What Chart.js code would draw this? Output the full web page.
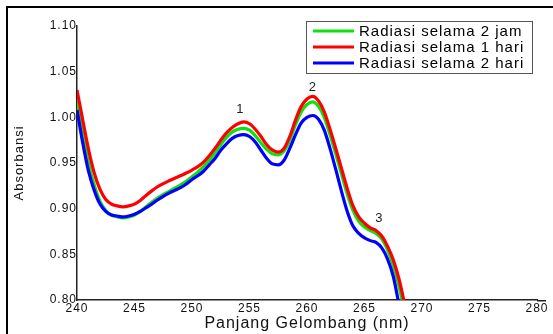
<!DOCTYPE html>
<html>
<head>
<meta charset="utf-8">
<script src="https://cdn.jsdelivr.net/npm/chart.js@4.4.1/dist/chart.umd.min.js"></script>
<style>
  html, body { margin: 0; padding: 0; background: #fff; }
  #wrap { width: 553px; height: 334px; }
</style>
</head>
<body>
<div id="wrap"><canvas id="chart"></canvas></div>
<script>
// panjang gelombang (nm)
var panjang = [240,240.5,241,241.5,242,242.5,243,243.5,244,244.5,245,245.5,246,246.5,247,247.5,248,248.5,249,249.5,
  250,250.5,251,251.5,252,252.5,253,253.5,254,254.5,255,255.5,256,256.5,257,257.5,258,258.5,259,259.5,
  260,260.5,261,261.5,262,262.5,263,263.5,264,264.5,265,265.5,266,266.5,267,267.5,268,268.5,269]

var dua_jam = [1.018,0.982,0.950,0.926,0.908,0.898,0.893,0.891,0.890,0.891,0.893,0.897,0.902,0.907,0.9115,0.9155,0.919,0.9225,0.926,0.930,
  0.935,0.940,0.946,0.953,0.961,0.970,0.978,0.984,0.987,0.988,0.986,0.980,0.972,0.965,0.960,0.959,0.963,0.975,0.992,1.006,
  1.014,1.017,1.012,1.000,0.981,0.960,0.938,0.916,0.898,0.886,0.880,0.876,0.873,0.867,0.855,0.838,0.815,0.787,0.760]

var satu_hari = [1.030,0.997,0.965,0.939,0.921,0.910,0.905,0.903,0.902,0.903,0.905,0.909,0.9145,0.9195,0.924,0.9275,0.9305,0.9333,0.936,0.939,
  0.9423,0.946,0.951,0.958,0.966,0.975,0.983,0.989,0.993,0.995,0.993,0.987,0.979,0.970,0.964,0.962,0.966,0.979,0.997,1.012,
  1.020,1.023,1.018,1.006,0.987,0.966,0.944,0.922,0.903,0.891,0.884,0.879,0.876,0.870,0.859,0.844,0.823,0.795,0.765]

var dua_hari = [1.008,0.972,0.941,0.920,0.905,0.897,0.893,0.892,0.891,0.892,0.894,0.897,0.901,0.905,0.9095,0.9135,0.917,0.920,0.923,0.927,
  0.932,0.936,0.941,0.948,0.955,0.964,0.971,0.977,0.980,0.981,0.979,0.973,0.964,0.955,0.949,0.948,0.953,0.966,0.981,0.994,
  1.000,1.002,0.998,0.986,0.966,0.943,0.919,0.897,0.881,0.873,0.868,0.865,0.863,0.857,0.845,0.826,0.795,0.765,0.740]

var xTicks = [240,245,250,255,260,265,270,275,280]
var yTicks = [0.80,0.85,0.90,0.95,1.00,1.05,1.10]

// label puncak
var puncakLabel = ['1','2','3']
var puncakX = [254.2, 260.5, 266.3]
var puncakY = [1.009, 1.033, 0.889]

function pasangan(ys) {
  return ys.map(function (v, i) { return {x: panjang[i], y: v} })
}

var legendaPlugin = {
  id: 'legenda',
  beforeLayout: function (chart) { chart.ctx.letterSpacing = '1px' },
  beforeDraw: function (chart) {
    var c = chart.ctx
    c.letterSpacing = '1px'
    // bingkai luar
    c.save()
    c.strokeStyle = '#000'
    c.lineWidth = 2
    c.beginPath()
    c.moveTo(7, 334); c.lineTo(7, 7); c.lineTo(553, 7)
    c.stroke()
    c.restore()
  },
  afterDraw: function (chart) {
    var c = chart.ctx
    var xs = chart.scales.x, ys = chart.scales.y
    c.save()
    c.letterSpacing = '1px'
    // sumbu x sampai ujung label 280
    c.strokeStyle = '#222'
    c.lineWidth = 1.5
    c.beginPath()
    c.moveTo(xs.right, ys.bottom + 0.75); c.lineTo(xs.right + 9, ys.bottom + 0.75)
    c.stroke()
    c.fillStyle = '#222'
    c.font = '13px "Liberation Sans", Arial, sans-serif'
    c.textAlign = 'center'
    c.textBaseline = 'middle'
    puncakLabel.forEach(function (t, i) {
      c.fillText(t, xs.getPixelForValue(puncakX[i]), ys.getPixelForValue(puncakY[i]))
    })
    // kotak legenda
    c.fillStyle = '#fff'
    c.fillRect(306, 21, 226, 52)
    c.strokeStyle = '#555'
    c.lineWidth = 1
    c.strokeRect(306.5, 21.5, 226, 52)
    c.font = '15px "Liberation Sans", Arial, sans-serif'
    c.textAlign = 'left'
    chart.data.datasets.forEach(function (ds, i) {
      var y = 31 + i * 16
      c.strokeStyle = ds.borderColor
      c.lineWidth = 3
      c.beginPath(); c.moveTo(313, y); c.lineTo(354, y); c.stroke()
      c.fillStyle = '#000'
      c.fillText(ds.label, 359, y + 1)
    })
    c.restore()
  }
}

var ctx = document.getElementById('chart')

var grafik = new Chart(ctx, {
  type: 'line',
  data: {
    datasets: [
      {label: 'Radiasi selama 2 jam', data: pasangan(dua_jam), borderColor: '#10e010', order: 2},
      {label: 'Radiasi selama 1 hari', data: pasangan(satu_hari), borderColor: '#ff0000', order: 0},
      {label: 'Radiasi selama 2 hari', data: pasangan(dua_hari), borderColor: '#0000ff', order: 1}
    ]
  },
  options: {
    responsive: true,
    maintainAspectRatio: false,
    animation: false,
    devicePixelRatio: 1,
    layout: {padding: {top: 26, right: 16, left: 0, bottom: 0}},
    elements: {
      line: {borderWidth: 3.2, cubicInterpolationMode: 'monotone', fill: false},
      point: {radius: 0}
    },
    datasets: {line: {clip: 0}},
    plugins: {legend: {display: false}, tooltip: {enabled: false}},
    scales: {
      x: {
        type: 'linear',
        min: 240, max: 280,
        grid: {display: false, drawTicks: false},
        border: {display: true, color: '#222', width: 1.5},
        afterBuildTicks: function (s) { s.ticks = xTicks.map(function (v) { return {value: v} }) },
        afterFit: function (s) { s.height = 34 },
        ticks: {
          padding: 1, color: '#111', maxRotation: 0, autoSkip: false,
          font: {family: '"Liberation Sans", Arial, sans-serif', size: 12}
        },
        title: {
          display: true, text: 'Panjang Gelombang (nm)', color: '#111',
          font: {family: '"Liberation Sans", Arial, sans-serif', size: 16},
          padding: {top: 0, bottom: 1}
        }
      },
      y: {
        min: 0.80, max: 1.10,
        grid: {display: false, drawTicks: false},
        border: {display: true, color: '#222', width: 1.5},
        afterBuildTicks: function (s) { s.ticks = yTicks.map(function (v) { return {value: v} }) },
        afterFit: function (s) { s.width = 77 },
        ticks: {
          padding: 0, color: '#111', autoSkip: false,
          font: {family: '"Liberation Sans", Arial, sans-serif', size: 12},
          callback: function (v) { return Number(v).toFixed(2) }
        },
        title: {
          display: true, text: 'Absorbansi', color: '#111',
          font: {family: '"Liberation Sans", Arial, sans-serif', size: 13},
          padding: {top: 12, bottom: 0}
        }
      }
    }
  },
  plugins: [legendaPlugin]
})
</script>
</body>
</html>
